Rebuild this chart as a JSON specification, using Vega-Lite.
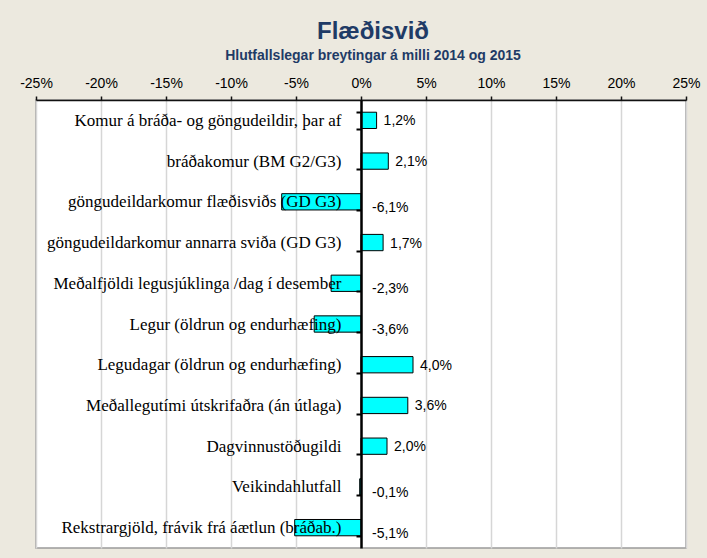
{
  "$schema": "https://vega.github.io/schema/vega-lite/v6.json",
  "width": 650,
  "height": 448,
  "autosize": {"type": "none"},
  "padding": {"left": 36, "top": 100, "right": 21, "bottom": 10},
  "background": "#ECE9DF",
  "title": {
    "text": "Flæðisvið",
    "subtitle": "Hlutfallslegar breytingar á milli 2014 og 2015",
    "anchor": "middle",
    "dx": 12,
    "offset": 13,
    "font": "Liberation Sans",
    "fontSize": 24,
    "fontWeight": "bold",
    "color": "#1F3B66",
    "subtitleFont": "Liberation Sans",
    "subtitleFontSize": 14,
    "subtitleFontWeight": "bold",
    "subtitleColor": "#1F3B66",
    "subtitlePadding": 5
  },
  "data": {
    "values": [
      {"item": "Komur á bráða- og göngudeildir,  þar af", "value": 0.012},
      {"item": "bráðakomur (BM G2/G3)", "value": 0.021},
      {"item": "göngudeildarkomur flæðisviðs (GD G3)", "value": -0.061},
      {"item": "göngudeildarkomur annarra sviða (GD G3)", "value": 0.017},
      {"item": "Meðalfjöldi legusjúklinga /dag í desember", "value": -0.023},
      {"item": "Legur (öldrun og endurhæfing)", "value": -0.036},
      {"item": "Legudagar (öldrun og endurhæfing)", "value": 0.040},
      {"item": "Meðallegutími útskrifaðra (án útlaga)", "value": 0.036},
      {"item": "Dagvinnustöðugildi", "value": 0.020},
      {"item": "Veikindahlutfall", "value": -0.001},
      {"item": "Rekstrargjöld, frávik frá áætlun (bráðab.)", "value": -0.051}
    ]
  },
  "encoding": {
    "y": {
      "field": "item",
      "type": "nominal",
      "sort": null,
      "title": null,
      "scale": {"paddingInner": 0.6, "paddingOuter": 0.3},
      "axis": {
        "orient": "left",
        "offset": -325,
        "zindex": 1,
        "domainColor": "#000000",
        "domainWidth": 2.5,
        "tickColor": "#000000",
        "tickWidth": 2,
        "tickSize": 5,
        "tickBand": "extent",
        "labelFont": "Liberation Serif",
        "labelFontSize": 17,
        "labelColor": "#000000",
        "labelPadding": 15,
        "labelLimit": 0,
        "grid": false
      }
    }
  },
  "layer": [
    {
      "mark": {"type": "bar", "fill": "#00FFFF", "stroke": "#000000", "strokeWidth": 1},
      "encoding": {
        "x": {
          "field": "value",
          "type": "quantitative",
          "title": null,
          "scale": {"domain": [-0.25, 0.25], "nice": false, "zero": false},
          "axis": {
            "orient": "top",
            "values": [-0.25, -0.2, -0.15, -0.1, -0.05, 0, 0.05, 0.1, 0.15, 0.2, 0.25],
            "format": ".0%",
            "domainColor": "#111111",
            "domainWidth": 1.5,
            "tickColor": "#111111",
            "tickWidth": 1.5,
            "tickSize": 4,
            "labelFont": "Liberation Sans",
            "labelFontSize": 14,
            "labelColor": "#000000",
            "labelBaseline": "alphabetic",
            "labelPadding": 9,
            "labelFlush": false,
            "grid": true,
            "gridColor": "#D6D6D6",
            "gridWidth": 1.5
          }
        }
      }
    },
    {
      "transform": [{"filter": "datum.value >= 0"}],
      "mark": {"type": "text", "align": "left", "baseline": "middle", "dx": 7, "dy": 1, "font": "Liberation Sans", "fontSize": 14, "color": "#000000"},
      "encoding": {
        "x": {"field": "value", "type": "quantitative"},
        "text": {"field": "value", "type": "quantitative", "format": ".1%"}
      }
    },
    {
      "transform": [{"filter": "datum.value < 0"}],
      "mark": {"type": "text", "align": "left", "baseline": "middle", "dx": 11, "dy": 6, "font": "Liberation Sans", "fontSize": 14, "color": "#000000"},
      "encoding": {
        "x": {"datum": 0, "type": "quantitative"},
        "text": {"field": "value", "type": "quantitative", "format": ".1%"}
      }
    }
  ],
  "config": {
    "locale": {
      "number": {"decimal": ",", "thousands": ".", "grouping": [3], "currency": ["", " kr."], "minus": "-"}
    },
    "view": {"fill": "#FFFFFF", "stroke": "#9A9A9A", "strokeWidth": 1.5}
  }
}
